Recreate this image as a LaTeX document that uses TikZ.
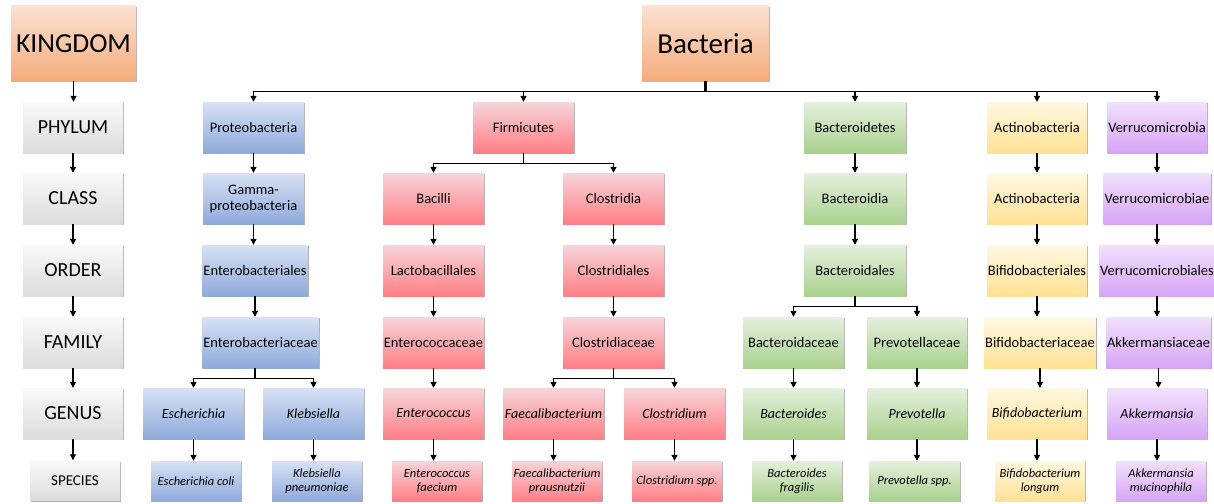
\documentclass[tikz,border=0pt]{standalone}
\usepackage{fontspec}
\setmainfont{Carlito}
\usetikzlibrary{arrows.meta,shadows}
\definecolor{bluT}{HTML}{D7E1F4}\definecolor{bluB}{HTML}{8EAADB}
\definecolor{redT}{HTML}{F6D5DA}\definecolor{redB}{HTML}{FF7F85}
\definecolor{grnT}{HTML}{E4F0DC}\definecolor{grnB}{HTML}{A9D18E}
\definecolor{yelT}{HTML}{FFF8E2}\definecolor{yelB}{HTML}{FFE193}
\definecolor{purT}{HTML}{F1E1FB}\definecolor{purB}{HTML}{D6A4F6}
\definecolor{orgT}{HTML}{FBE1D1}\definecolor{orgB}{HTML}{F4AC7A}
\definecolor{gryT}{HTML}{F9F9F9}\definecolor{gryB}{HTML}{DCDCDC}
\begin{document}
\begin{tikzpicture}[x=1pt,y=-1pt,
  box/.style={rectangle, minimum height=51, minimum width=101, inner sep=1pt, align=center,
    font=\fontsize{14.5}{16}\selectfont,
    drop shadow={shadow xshift=1.3pt, shadow yshift=-1.3pt, opacity=0.3, fill=black}},
  sp/.style={box, minimum height=40, minimum width=90, font=\fontsize{12.5}{14}\selectfont\itshape},
  gen/.style={box, font=\fontsize{14}{16}\selectfont\itshape},
  bw/.style={minimum width=#1},
  blu/.style={top color=bluT, bottom color=bluB},
  red/.style={top color=redT, bottom color=redB},
  grn/.style={top color=grnT, bottom color=grnB},
  yel/.style={top color=yelT, bottom color=yelB},
  pur/.style={top color=purT, bottom color=purB},
  org/.style={top color=orgT, bottom color=orgB},
  gry/.style={top color=gryT, bottom color=gryB},
  lab/.style={box, gry, minimum width=100, font=\fontsize{20}{22}\selectfont},
  arr/.style={line width=1.2pt, -{Triangle[length=6pt,width=6pt]}},
  ln/.style={line width=1.2pt}
]
\useasboundingbox (0,0) rectangle (1214,503);

% left column
\node[box, org, minimum width=125, minimum height=75, font=\fontsize{27.5}{30}\selectfont] (kin) at (73.5,43.5) {KINGDOM};
\node[lab] (phy) at (73,127.5) {PHYLUM};
\node[lab] (cla) at (73,198.5) {CLASS};
\node[lab] (ord) at (73,270.5) {ORDER};
\node[lab] (fam) at (73,342.5) {FAMILY};
\node[lab] (gns) at (73,413.5) {GENUS};
\node[box, gry, minimum width=90, minimum height=40, font=\fontsize{15}{17}\selectfont] (spe) at (75,480.5) {SPECIES};
\foreach \a/\b in {kin/phy,phy/cla,cla/ord,ord/fam,fam/gns,gns/spe}
  \draw[arr] (\a.south) -- (\a.south |- \b.north);

% root
\node[box, org, minimum width=127, minimum height=75, font=\fontsize{29}{31}\selectfont] (bac) at (705.5,43.5) {Bacteria};

% Proteobacteria
\node[box, blu] (pro) at (253.5,127.5) {Proteobacteria};
\node[box, blu] (gam) at (253.5,198.5) {Gamma-\\proteobacteria};
\node[box, blu, bw=104] (ento) at (255,270.5) {Enterobacteriales};
\node[box, blu, bw=115] (entf) at (260.5,342.5) {Enterobacteriaceae};
\node[gen, blu] (esc) at (193.5,413.5) {Escherichia};
\node[gen, blu] (kle) at (313.5,413.5) {Klebsiella};
\node[sp, blu] (ecol) at (196,481) {Escherichia coli};
\node[sp, blu] (kpn) at (317,481) {Klebsiella\\pneumoniae};

% Firmicutes
\node[box, red] (fir) at (523.5,127.5) {Firmicutes};
\node[box, red] (bacl) at (433.5,198.5) {Bacilli};
\node[box, red] (clo) at (613.5,198.5) {Clostridia};
\node[box, red] (lac) at (433.5,270.5) {Lactobacillales};
\node[box, red] (clol) at (613.5,270.5) {Clostridiales};
\node[box, red] (entc) at (433.5,342.5) {Enterococcaceae};
\node[box, red] (clof) at (613.5,342.5) {Clostridiaceae};
\node[gen, red] (enc) at (433.5,413.5) {Enterococcus};
\node[gen, red] (fae) at (553.5,413.5) {Faecalibacterium};
\node[gen, red] (cld) at (674.5,413.5) {Clostridium};
\node[sp, red] (efa) at (437,481) {Enterococcus\\faecium};
\node[sp, red] (fpr) at (557,481) {Faecalibacterium\\prausnutzii};
\node[sp, red] (csp) at (677,481) {Clostridium spp.};

% Bacteroidetes
\node[box, grn, bw=102] (bct) at (855,127.5) {Bacteroidetes};
\node[box, grn, bw=102] (bcd) at (855,198.5) {Bacteroidia};
\node[box, grn, bw=102] (bcl) at (855,270.5) {Bacteroidales};
\node[box, grn] (bcf) at (793.5,342.5) {Bacteroidaceae};
\node[box, grn, bw=100] (prf) at (917,342.5) {Prevotellaceae};
\node[gen, grn] (bcg) at (793.5,413.5) {Bacteroides};
\node[gen, grn, bw=100] (prg) at (917,413.5) {Prevotella};
\node[sp, grn] (bfr) at (797,481) {Bacteroides\\fragilis};
\node[sp, grn, bw=91] (psp) at (914.5,481) {Prevotella spp.};

% Actinobacteria
\node[box, yel, bw=100] (act) at (1037,127.5) {Actinobacteria};
\node[box, yel, bw=100] (acc) at (1037,198.5) {Actinobacteria};
\node[box, yel, bw=100] (bfo) at (1037,270.5) {Bifidobacteriales};
\node[box, yel, bw=106] (bff) at (1040,342.5) {Bifidobacteriaceae};
\node[gen, yel, bw=100] (bfg) at (1037,413.5) {Bifidobacterium};
\node[sp, yel] (blo) at (1040,481) {Bifidobacterium\\longum};

% Verrucomicrobia
\node[box, pur, bw=100] (ver) at (1157,127.5) {Verrucomicrobia};
\node[box, pur, bw=104] (vec) at (1157,198.5) {Verrucomicrobiae};
\node[box, pur, bw=112] (veo) at (1157,270.5) {Verrucomicrobiales};
\node[box, pur, bw=103] (akf) at (1158.5,342.5) {Akkermansiaceae};
\node[gen, pur, bw=100] (akg) at (1157,413.5) {Akkermansia};
\node[sp, pur] (amu) at (1161,481) {Akkermansia\\mucinophila};

% root connectors
\draw[line width=2.6pt] (bac.south) -- ++(0,10) coordinate (hub);
\foreach \p in {pro,fir,bct,act,ver}
  \draw[arr] (hub) -| (\p.north);

% straight arrows
\foreach \a/\b in {pro/gam,gam/ento,ento/entf,esc/ecol,kle/kpn,
  bacl/lac,lac/entc,entc/enc,enc/efa,clo/clol,clol/clof,fae/fpr,cld/csp,
  bct/bcd,bcd/bcl,bcf/bcg,prf/prg,bcg/bfr,prg/psp,
  act/acc,acc/bfo,bfo/bff,bff/bfg,bfg/blo,
  ver/vec,vec/veo,veo/akf,akf/akg,akg/amu}
  \draw[arr] (\a.south) -- (\a.south |- \b.north);

% branches
\draw[ln] (entf.south -| ento.south) -- ++(0,10) coordinate (b1);
\draw[arr] (b1) -| (esc.north);
\draw[arr] (b1) -| (kle.north);
\draw[ln] (fir.south) -- ++(0,10) coordinate (b2);
\draw[arr] (b2) -| (bacl.north);
\draw[arr] (b2) -| (clo.north);
\draw[ln] (clof.south) -- ++(0,10) coordinate (b3);
\draw[arr] (b3) -| (fae.north);
\draw[arr] (b3) -| (cld.north);
\draw[ln] (bcl.south) -- ++(0,10) coordinate (b4);
\draw[arr] (b4) -| (bcf.north);
\draw[arr] (b4) -| (prf.north);
\end{tikzpicture}
\end{document}
